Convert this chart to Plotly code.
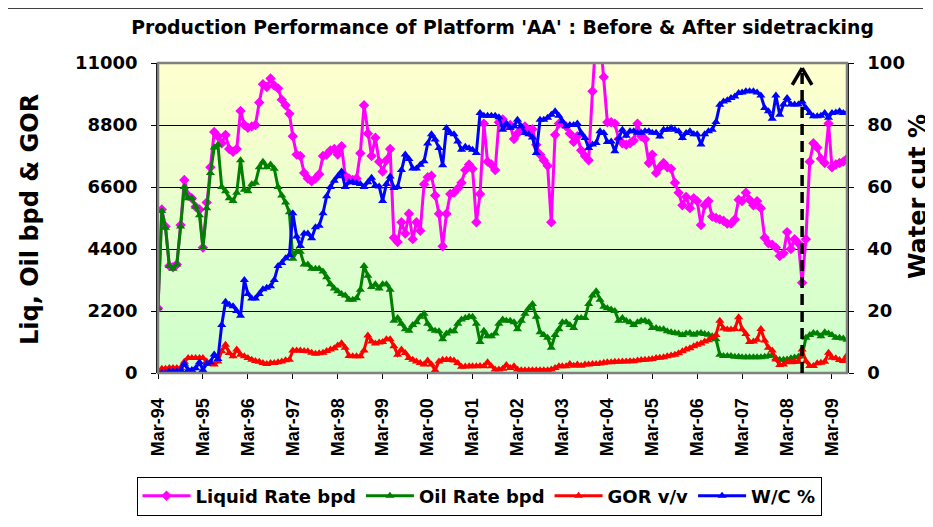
import plotly.graph_objects as go
import pandas as pd

# ---------------- data (monthly, Mar-94 .. Jul-09) ----------------
start_month = "1994-03-01"

liquid_bpd = [
    2300, 5800, 5200, 3800, 3750, 3850, 5250, 6850, 6300, 6200,
    5900, 5800, 4450, 6050, 7300, 8550, 8400, 8150, 8450, 7950,
    7850, 7950, 9300, 8800, 8700, 8750, 8800, 9600, 10250, 10150,
    10450, 10200, 10100, 9700, 9500, 9200, 8400, 7750, 7700, 7100,
    6900, 6800, 6900, 7050, 7700, 7750, 7900, 7950, 7750, 8050,
    7000, 6900, 6850, 6900, 7800, 9500, 8500, 7700, 8350, 7500,
    7150, 7550, 7950, 4800, 4650, 5350, 4950, 5650, 4750, 5350,
    5050, 6700, 6950, 7000, 6300, 5650, 4500, 5650, 6350, 6400,
    6550, 6750, 7200, 7400, 7250, 5350, 6350, 8850, 7500, 7400,
    7200, 8900, 9000, 8800, 8800, 8300, 8500, 8650, 8750, 8550,
    8650, 8100, 7750, 7550, 7350, 5350, 8450, 8850, 8850, 8750,
    8500, 8200, 8400, 7900, 7700, 7550, 10000, 12000, 12000, 10500,
    8900, 8900, 8850, 8300, 8150, 8100, 8150, 8250, 8850, 8400,
    8300, 7450, 7750, 7100, 7300, 7450, 7300, 7250, 6750, 6400,
    5950, 6250, 5850, 6200, 6100, 5250, 5950, 6100, 5550, 5500,
    5450, 5400, 5300, 5300, 5450, 6150, 6100, 6400, 6150, 5950,
    6100, 5850, 4800, 4600, 4550, 4450, 4150, 4250, 5000, 4400,
    4750, 4600, 3200, 4750, 7500, 8150, 8000, 7600, 7450, 8850,
    7300, 7400, 7450, 7500, 7600,
]

oil_bpd = [
    2300, 5750, 5150, 3800, 3700, 3850, 5200, 6600, 6200, 6200,
    5900, 5600, 4450, 5850, 7100, 8000, 8100, 6600, 6450, 6200,
    6100, 6400, 7550, 6500, 6450, 6700, 6750, 7300, 7500, 7300,
    7400, 7250, 6600, 6300, 6050, 5700, 4050, 4300, 4300, 3850,
    3850, 3700, 3700, 3700, 3600, 3400, 3150, 3000, 2900, 2800,
    2750, 2600, 2600, 2650, 2950, 3800, 3450, 3050, 3150, 3000,
    3150, 3150, 2950, 1850, 1950, 1750, 1550, 1500, 1700, 1800,
    2000, 2100, 1750, 1550, 1500, 1480, 1200, 1400, 1480, 1480,
    1750, 1900, 1950, 2000, 2000, 1750, 1100, 1500, 1300, 1300,
    1400, 1750, 1900, 1850, 1850, 1800, 1550, 1850, 2100, 2300,
    2450, 2000, 1450, 1350, 1250, 900, 1350, 1550, 1800, 1800,
    1700, 1600, 1950, 1950, 1950, 2450, 2750, 2900, 2600, 2350,
    2300, 2250, 2200, 1850, 1950, 1850, 1800, 1700, 1800, 1850,
    1850, 1800, 1600, 1600, 1550, 1550, 1480, 1450, 1420, 1400,
    1350, 1400, 1420, 1360, 1400, 1420, 1380, 1360, 1300, 1200,
    650, 600, 600, 600, 580, 580, 560, 560, 560, 560,
    560, 560, 580, 600, 640, 520, 470, 470, 480, 520,
    550, 580, 600, 1250, 1350, 1420, 1400, 1300, 1450, 1400,
    1350, 1250, 1250, 1220, 1180,
]

gor_vv = [
    60, 150, 150, 180, 180, 180, 180, 400, 530, 530,
    530, 530, 530, 410, 330, 300, 410, 770, 1000, 710,
    590, 830, 650, 590, 530, 470, 430, 400, 355, 320,
    355, 355, 380, 410, 450, 470, 800, 800, 800, 780,
    770, 720, 680, 700, 720, 780, 830, 880, 980, 1060,
    900, 600, 590, 590, 590, 800, 1330, 1120, 1050, 1080,
    1100, 1200, 1200, 950, 650, 830, 710, 530, 470, 410,
    355, 300, 440, 300, 100, 410, 470, 470, 470, 440,
    355, 220, 230, 240, 240, 240, 250, 240, 380, 240,
    120, 120, 150, 280, 180, 240, 120, 100, 100, 100,
    100, 100, 100, 100, 100, 120, 180, 240, 240, 240,
    320, 260, 300, 260, 300, 300, 320, 320, 340, 360,
    380, 380, 400, 400, 410, 410, 420, 420, 440, 460,
    470, 480, 500, 530, 540, 560, 590, 620, 650, 700,
    770, 830, 880, 950, 1000, 1050, 1120, 1160, 1240, 1350,
    1850, 1580, 1540, 1540, 1560, 1980, 1550, 1380, 1100, 1120,
    1180, 1560, 1150, 900, 800, 480, 280, 300, 400, 380,
    400, 400, 830, 420, 250, 250, 350, 360, 400, 720,
    540, 520, 460, 430, 620,
]

water_cut_pct = [
    0, 0, 0, 0.5, 0.5, 0.5, 1, 3, 1, 1,
    1.5, 3.5, 1, 3, 3.5, 6, 4.5, 15.5, 23, 22,
    21.5, 20, 18.5, 30, 25.5, 24, 24, 25.5, 27, 27.5,
    28, 30, 34.5, 35.5, 37, 38, 51.5, 44, 41, 45,
    45, 43.5, 47, 47.5, 51.5, 57, 60, 62, 63.5, 65,
    60, 61.5, 61.5, 61.3, 61, 60, 61.5, 63, 60.5, 60.2,
    55.5, 61, 63.4, 59.7, 60, 65.5, 70.5, 69, 66, 66,
    67.2, 68.3, 74, 77, 75.3, 72.6, 67, 79, 77.4, 77,
    74.7, 72, 73, 72.5, 72, 71, 83.9, 83, 83, 83,
    83, 82.5, 78.5, 80.5, 79, 79.5, 81.7, 79.6, 77.4, 77,
    76, 71, 81.7, 81.7, 82.3, 83.3, 84.4, 83, 81.2, 79.6,
    80, 80, 80.5, 77.4, 75.8, 72.6, 73.7, 74.2, 78, 77.4,
    74.5, 74.7, 71.5, 75.8, 78.5, 76.5, 78, 78, 77.5, 77.5,
    78, 78, 77.5, 77.5, 76.3, 78.5, 78.5, 79, 78.5, 78,
    75.8, 77.4, 78, 77, 77, 73.7, 77, 78, 78.5, 81,
    86.5, 87.6, 88, 88.7, 89.2, 90.3, 90.5, 90.9, 90.9, 90.9,
    90.5, 89.5, 85.5, 84.4, 82, 89.5, 83.3, 86.6, 88.7, 86.6,
    86.6, 86.6, 87.6, 85.5, 83.9, 82.8, 82.8, 83, 83.9, 82.3,
    83.9, 84, 84.4, 83.9, 83.9,
]

tick_years = list(range(1994, 2010))
tick_labels = [f"Mar-{y % 100:02d}" for y in tick_years]
left_ticks = [0, 2200, 4400, 6600, 8800, 11000]
left_tick_labels = ["0", "2200", "4400", "6600", "8800", "11000"]
right_ticks = [0, 20, 40, 60, 80, 100]
right_tick_labels = ["0", "20", "40", "60", "80", "100"]
sidetrack_date = "2008-07-01"
arrow_top = 10820

months = pd.date_range(start_month, periods=len(liquid_bpd), freq="MS")
tick_dates = [f"{y}-03-01" for y in tick_years]

BOLD = "DejaVu Sans"
ARIAL = "Liberation Sans"

fig = go.Figure()

series = [
    ("Liquid Rate bpd", liquid_bpd, "#FF00FF", "diamond", 8, "y"),
    ("Oil Rate bpd", oil_bpd, "#008000", "triangle-up", 8, "y"),
    ("GOR v/v", gor_vv, "#FF0000", "triangle-up", 8, "y"),
    ("W/C %", water_cut_pct, "#0000FF", "triangle-up", 8, "y2"),
]
for name, vals, col, sym, ms, ax in series:
    fig.add_trace(go.Scatter(
        x=months, y=vals, name=name, mode="lines+markers", yaxis=ax,
        line=dict(color=col, width=3),
        marker=dict(symbol=sym, size=ms, color=col, line=dict(width=0)),
    ))

# The page body has an 8px default margin: size the figure so it fits the window.
OFF = 8
W, H = 933 - OFF, 527 - OFF
L = 158 - OFF           # plot left edge at page x=158
T = 63 - OFF            # plot top at page y=63
R = W - (847 - OFF)     # plot right at page x=847
B = H - (373 - OFF)     # plot bottom at page y=373
pw, ph = W - L - R, H - T - B

def px(x_page):
    return (x_page - OFF - L) / pw

def py(y_page):
    return (H - B - (y_page - OFF)) / ph

shapes = []
# gradient plot background (pale yellow -> pale green)
nb = 40
top_c = (255, 255, 206)
bot_c = (204, 255, 204)
for k in range(nb):
    t = (k + 0.5) / nb
    c = tuple(round(bot_c[j] + (top_c[j] - bot_c[j]) * t) for j in range(3))
    shapes.append(dict(type="rect", xref="paper", yref="paper",
                       x0=0, x1=1, y0=k / nb, y1=(k + 1) / nb + 0.002,
                       fillcolor=f"rgb{c}", line=dict(width=0), layer="below"))
# plot area border
shapes.append(dict(type="rect", xref="paper", yref="paper", x0=0, x1=1, y0=0, y1=1,
                   line=dict(color="#808080", width=2.5), layer="above"))
# dashed sidetrack line + open arrow head
sd = pd.Timestamp(sidetrack_date)
shapes.append(dict(type="line", xref="x", yref="y", x0=sd, x1=sd, y0=0, y1=arrow_top,
                   line=dict(color="black", width=3.5, dash="11px,6px")))
half = pd.Timedelta(days=80)
shapes.append(dict(type="line", xref="x", yref="y", x0=sd - half, x1=sd,
                   y0=arrow_top - 600, y1=arrow_top, line=dict(color="black", width=3.5)))
shapes.append(dict(type="line", xref="x", yref="y", x0=sd, x1=sd + half,
                   y0=arrow_top, y1=arrow_top - 600, line=dict(color="black", width=3.5)))
# outer chart border (left and top edges)
shapes.append(dict(type="line", xref="paper", yref="paper", x0=px(5), x1=px(5),
                   y0=py(8), y1=py(530), line=dict(color="black", width=1.5)))
shapes.append(dict(type="line", xref="paper", yref="paper", x0=px(5), x1=px(923),
                   y0=py(8), y1=py(8), line=dict(color="black", width=1.5)))

annotations = [
    dict(text="Liq, Oil bpd & GOR", xref="paper", yref="paper", x=px(30), y=py(220),
         textangle=-90, showarrow=False, xanchor="center", yanchor="middle",
         font=dict(family=BOLD, size=24, color="black", weight="bold")),
    dict(text="Water cut %", xref="paper", yref="paper", x=px(918), y=py(197),
         textangle=-90, showarrow=False, xanchor="center", yanchor="middle",
         font=dict(family=BOLD, size=24, color="black", weight="bold")),
]

fig.update_layout(
    width=W, height=H,
    margin=dict(l=L, r=R, t=T, b=B, autoexpand=False),
    paper_bgcolor="white", plot_bgcolor="rgba(0,0,0,0)",
    title=dict(text="Production Performance of Platform 'AA' : Before & After sidetracking",
               x=0.5, xref="paper", xanchor="center", y=1 - (27 - OFF) / H, yanchor="middle",
               font=dict(family=BOLD, size=18.8, color="black", weight="bold"),
               automargin=False),
    xaxis=dict(type="date", range=[months[0], months[-1]], automargin=False,
               tickvals=tick_dates, ticktext=tick_labels, tickangle=-90,
               ticks="outside", ticklen=5, tickcolor="black", ticklabelstandoff=12,
               showgrid=False, zeroline=False, showline=False,
               tickfont=dict(family=ARIAL, size=18, color="black", weight="bold")),
    yaxis=dict(range=[0, 11000], tickvals=left_ticks, ticktext=left_tick_labels,
               automargin=False, ticks="outside", ticklen=5,
               tickcolor="black", showline=True, linecolor="black", linewidth=1.5,
               showgrid=True, gridcolor="black", gridwidth=1, zeroline=False,
               ticklabelstandoff=10,
               tickfont=dict(family=BOLD, size=18, color="black", weight="bold")),
    yaxis2=dict(range=[0, 100], tickvals=right_ticks, ticktext=right_tick_labels,
                automargin=False, overlaying="y", side="right",
                ticks="outside", ticklen=5, tickcolor="black", showline=True,
                linecolor="black", linewidth=1.5, showgrid=False, zeroline=False,
                ticklabelstandoff=10,
                tickfont=dict(family=BOLD, size=18, color="black", weight="bold")),
    legend=dict(orientation="h", x=px(479), xanchor="center", y=py(496), yanchor="middle",
                bordercolor="black", borderwidth=1, bgcolor="white",
                font=dict(family=BOLD, size=18, color="black", weight="bold"),
                itemwidth=48, tracegroupgap=0),
    shapes=shapes,
    annotations=annotations,
    showlegend=True,
)

fig.write_html("out.html")
